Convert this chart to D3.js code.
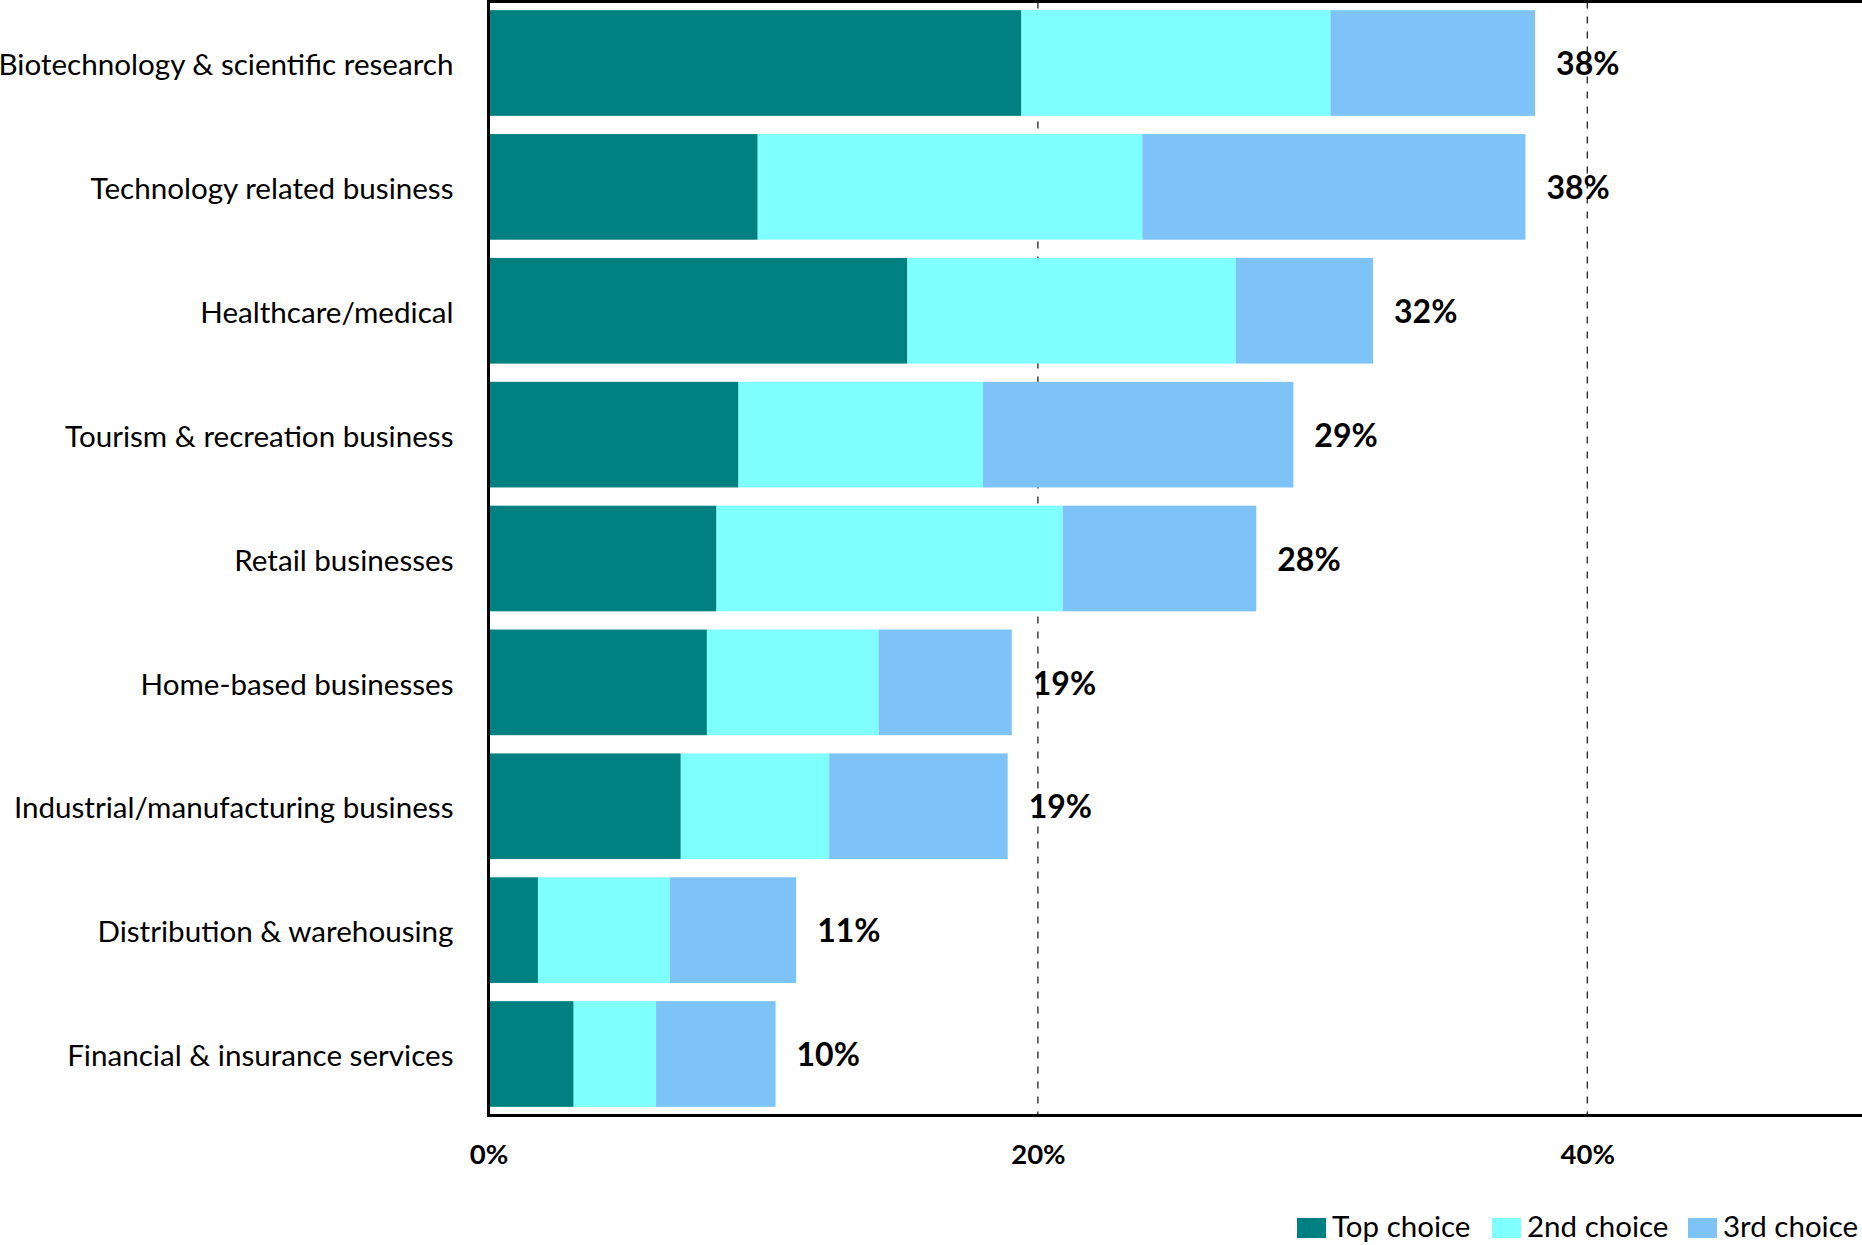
<!DOCTYPE html>
<html>
<head>
<meta charset="utf-8">
<script src="https://cdn.jsdelivr.net/npm/d3@7"></script>
<style>
  html, body { margin: 0; padding: 0; background: #fff; }
  svg { display: block; font-family: Lato, "Open Sans", sans-serif; }
</style>
</head>
<body>
<svg id="chart" width="1862" height="1245"></svg>
<script>
// Business types, listed top to bottom
const categories = [
  "Biotechnology & scientific research",
  "Technology related business",
  "Healthcare/medical",
  "Tourism & recreation business",
  "Retail businesses",
  "Home-based businesses",
  "Industrial/manufacturing business",
  "Distribution & warehousing",
  "Financial & insurance services"
];

// Share of respondents (%) choosing each business type
const topChoice    = [19.4, 9.8, 15.25, 9.1, 8.3, 7.95, 7.0, 1.8, 3.1];
const secondChoice = [11.25, 14.0, 11.95, 8.9, 12.6, 6.25, 5.4, 4.8, 3.0];
const thirdChoice  = [7.45, 13.95, 5.0, 11.3, 7.05, 4.85, 6.5, 4.6, 4.35];

const seriesNames  = ["Top choice", "2nd choice", "3rd choice"];
const seriesColors = ["#008080", "#80FFFF", "#7DC3F8"];
const xTicks = [0, 20, 40];

const rows = categories.map((c, i) => ({
  category: c,
  "Top choice": topChoice[i],
  "2nd choice": secondChoice[i],
  "3rd choice": thirdChoice[i]
}));

const svg = d3.select("#chart");

const plot = { left: 488.5, right: 1862, top: 1.5, bottom: 1115.5 };

const x = d3.scaleLinear().domain([0, 50]).range([plot.left, plot.right]);
const y = d3.scaleBand()
  .domain(categories)
  .range([plot.top, plot.bottom])
  .paddingInner(0.147)
  .paddingOuter(0.07);
const color = d3.scaleOrdinal().domain(seriesNames).range(seriesColors);

// dashed vertical gridlines
svg.append("g")
  .selectAll("line")
  .data(xTicks.filter(t => t > 0))
  .join("line")
  .attr("x1", d => x(d)).attr("x2", d => x(d))
  .attr("y1", plot.top).attr("y2", plot.bottom)
  .attr("stroke", "#222")
  .attr("stroke-width", 1.3)
  .attr("stroke-dasharray", "7,8");

// stacked bars
const stacked = d3.stack().keys(seriesNames)(rows);
svg.append("g")
  .selectAll("g")
  .data(stacked)
  .join("g")
  .attr("fill", d => color(d.key))
  .selectAll("rect")
  .data(d => d)
  .join("rect")
  .attr("x", d => x(d[0]))
  .attr("y", d => y(d.data.category))
  .attr("width", d => x(d[1]) - x(d[0]))
  .attr("height", y.bandwidth());

// total labels
const totals = rows.map(r => ({
  category: r.category,
  total: seriesNames.reduce((s, k) => s + r[k], 0)
}));
svg.append("g")
  .selectAll("text")
  .data(totals)
  .join("text")
  .attr("x", d => x(d.total) + 21)
  .attr("y", d => y(d.category) + y.bandwidth() / 2)
  .attr("dy", "0.38em")
  .attr("font-size", 32)
  .attr("font-weight", 700)
  .attr("fill", "#000")
  .text(d => Math.round(d.total) + "%");

// category axis
const axisY = d3.axisLeft(y).tickSize(0).tickPadding(35);
const gy = svg.append("g")
  .attr("transform", `translate(${plot.left},0)`)
  .call(axisY);
gy.select(".domain").remove();
gy.selectAll("text")
  .attr("font-family", "Lato, 'Open Sans', sans-serif")
  .attr("font-size", 29.6)
  .attr("dy", "0.41em")
  .attr("fill", "#000");

// percentage axis
const axisX = d3.axisBottom(x)
  .tickValues(xTicks)
  .tickSize(0)
  .tickPadding(29)
  .tickFormat(d => d + "%");
const gx = svg.append("g")
  .attr("transform", `translate(0,${plot.bottom})`)
  .call(axisX);
gx.select(".domain").remove();
gx.selectAll("text")
  .attr("font-family", "Lato, 'Open Sans', sans-serif")
  .attr("font-size", 27.5)
  .attr("font-weight", 700)
  .attr("fill", "#000");

// frame: top border, left and bottom axis lines
svg.append("line")
  .attr("x1", plot.left - 1.5).attr("x2", plot.right)
  .attr("y1", plot.top).attr("y2", plot.top)
  .attr("stroke", "#000").attr("stroke-width", 3);
svg.append("line")
  .attr("x1", plot.left).attr("x2", plot.left)
  .attr("y1", 0).attr("y2", plot.bottom + 1.5)
  .attr("stroke", "#000").attr("stroke-width", 3);
svg.append("line")
  .attr("x1", plot.left - 1.5).attr("x2", plot.right)
  .attr("y1", plot.bottom).attr("y2", plot.bottom)
  .attr("stroke", "#000").attr("stroke-width", 3);

// legend
const legend = svg.append("g").attr("transform", "translate(1297,1218)");
const legendX = [0, 195, 391];
const items = legend.selectAll("g")
  .data(seriesNames)
  .join("g")
  .attr("transform", (d, i) => `translate(${legendX[i]},0)`);
items.append("rect")
  .attr("width", 29).attr("height", 20)
  .attr("fill", d => color(d));
items.append("text")
  .attr("x", 35)
  .attr("y", 19)
  .attr("font-size", 29.5)
  .attr("fill", "#000")
  .text(d => d);
</script>
</body>
</html>
